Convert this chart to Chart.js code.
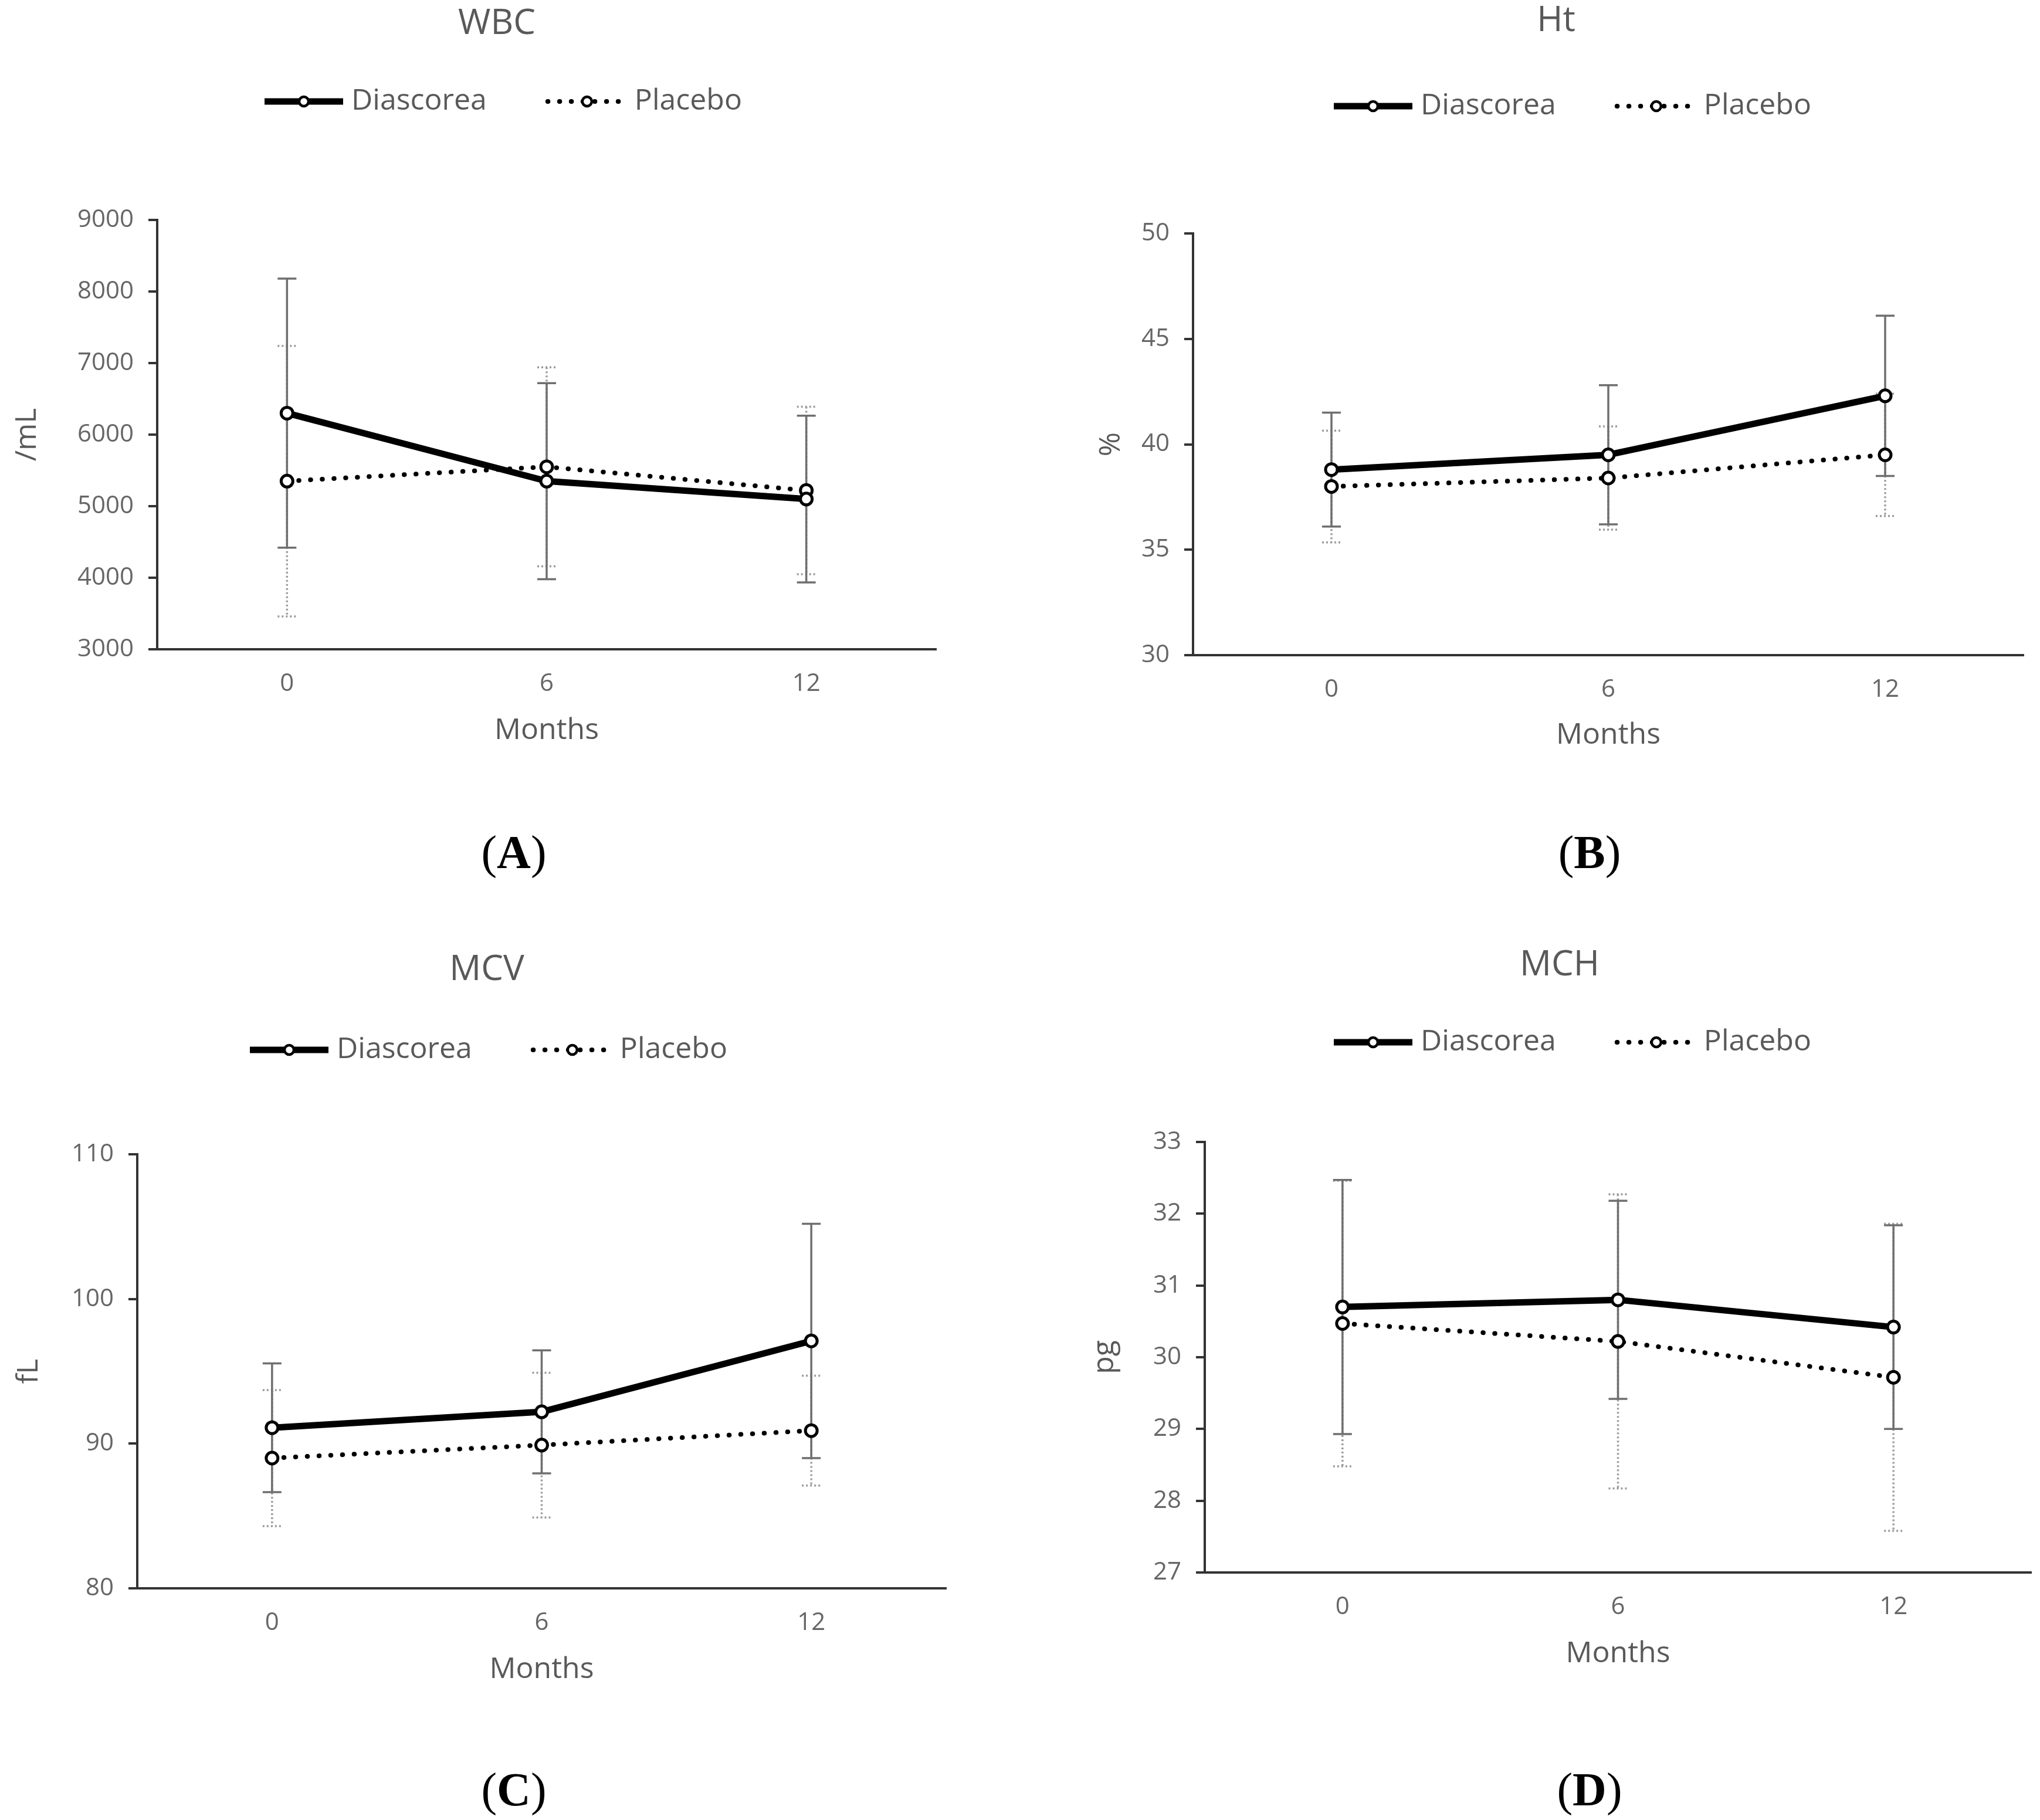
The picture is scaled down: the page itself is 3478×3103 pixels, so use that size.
<!DOCTYPE html>
<html>
<head>
<meta charset="utf-8">
<script src="https://cdn.jsdelivr.net/npm/chart.js@4.4.1/dist/chart.umd.min.js"></script>
<style>
  html, body { margin: 0; padding: 0; background: #fff; }
  body { position: relative; width: 3478px; height: 3103px; overflow: hidden; }
  canvas { position: absolute; }
  .tag {
    position: absolute;
    font-family: "Liberation Serif", "Tinos", "Times New Roman", "Nimbus Roman", "FreeSerif", serif;
    font-size: 80px;
    font-weight: normal;
    color: #000;
    line-height: 1;
    white-space: nowrap;
    transform: translate(-50%, -50%);
  }
  .tag b { font-weight: bold; }
</style>
</head>
<body>
<canvas id="wbc"></canvas>
<canvas id="ht"></canvas>
<canvas id="mcv"></canvas>
<canvas id="mch"></canvas>
<div class="tag" style="left:876px;top:1453px">(<b>A</b>)</div>
<div class="tag" style="left:2710px;top:1453px">(<b>B</b>)</div>
<div class="tag" style="left:876px;top:3051px">(<b>C</b>)</div>
<div class="tag" style="left:2710px;top:3051px">(<b>D</b>)</div>
<script>
const months = ['0', '6', '12']
const seriesNames = ['Diascorea', 'Placebo']

// WBC, /mL
const wbcTicks = [3000, 4000, 5000, 6000, 7000, 8000, 9000]
const wbcDiascorea = [6300, 5350, 5100]
const wbcDiascoreaSd = [1880, 1370, 1165]
const wbcPlacebo = [5350, 5550, 5220]
const wbcPlaceboSd = [1890, 1390, 1170]

// Ht, %
const htTicks = [30, 35, 40, 45, 50]
const htDiascorea = [38.8, 39.5, 42.3]
const htDiascoreaSd = [2.7, 3.3, 3.8]
const htPlacebo = [38.0, 38.4, 39.5]
const htPlaceboSd = [2.65, 2.45, 2.9]

// MCV, fL
const mcvTicks = [80, 90, 100, 110]
const mcvDiascorea = [91.1, 92.2, 97.1]
const mcvDiascoreaSd = [4.45, 4.25, 8.1]
const mcvPlacebo = [89.0, 89.9, 90.9]
const mcvPlaceboSd = [4.7, 5.0, 3.8]

// MCH, pg
const mchTicks = [27, 28, 29, 30, 31, 32, 33]
const mchDiascorea = [30.7, 30.8, 30.42]
const mchDiascoreaSd = [1.77, 1.38, 1.42]
const mchPlacebo = [30.47, 30.22, 29.72]
const mchPlaceboSd = [1.99, 2.05, 2.14]

const TEXT = '#595959'
const TICK_TEXT = '#666666'
const AXIS = '#333333'

const seriesStyles = [
  { line: { borderColor: '#000', borderWidth: 11, borderDash: [], borderCapStyle: 'butt' },
    bar: { color: '#6f6f6f', dash: [] } },
  { line: { borderColor: '#000', borderWidth: 8, borderDash: [0.5, 19.5], borderCapStyle: 'round' },
    bar: { color: '#9c9c9c', dash: [3, 4] } }
]

const panels = [
  { id: 'wbc', title: 'WBC', unit: '/mL', ticks: wbcTicks,
    means: [wbcDiascorea, wbcPlacebo], sds: [wbcDiascoreaSd, wbcPlaceboSd],
    box: { left: 0, top: 0, width: 1739, height: 1330 },
    area: { left: 268, right: 1596, top: 375, bottom: 1107 },
    titlePos: [847, 41], legendPos: [451, 173], unitX: 47, monthsY: 1246 },
  { id: 'ht', title: 'Ht', unit: '%', ticks: htTicks,
    means: [htDiascorea, htPlacebo], sds: [htDiascoreaSd, htPlaceboSd],
    box: { left: 1739, top: 0, width: 1739, height: 1330 },
    area: { left: 2034, right: 3450, top: 398, bottom: 1117 },
    titlePos: [2653, 36], legendPos: [2274, 181], unitX: 1895, monthsY: 1254 },
  { id: 'mcv', title: 'MCV', unit: 'fL', ticks: mcvTicks,
    means: [mcvDiascorea, mcvPlacebo], sds: [mcvDiascoreaSd, mcvPlaceboSd],
    box: { left: 0, top: 1560, width: 1739, height: 1340 },
    area: { left: 234, right: 1613, top: 1968, bottom: 2708 },
    titlePos: [830, 1654], legendPos: [426, 1790], unitX: 50, monthsY: 2847 },
  { id: 'mch', title: 'MCH', unit: 'pg', ticks: mchTicks,
    means: [mchDiascorea, mchPlacebo], sds: [mchDiascoreaSd, mchPlaceboSd],
    box: { left: 1739, top: 1560, width: 1739, height: 1340 },
    area: { left: 2054, right: 3472, top: 1947, bottom: 2681 },
    titlePos: [2659, 1646], legendPos: [2274, 1777], unitX: 1884, monthsY: 2820 }
]

// mean ± SD whiskers, drawn under the lines
const errorBars = {
  id: 'errorBars',
  beforeDatasetsDraw(chart) {
    const { ctx, scales: { x, y } } = chart
    for (let i = chart.data.datasets.length - 1; i >= 0; i--) {
      const ds = chart.data.datasets[i]
      const bar = seriesStyles[i].bar
      ctx.save()
      ctx.strokeStyle = bar.color
      ctx.lineWidth = 3.5
      ctx.setLineDash(bar.dash)
      ds.data.forEach((mean, j) => {
        const px = x.getPixelForValue(j)
        const top = y.getPixelForValue(mean + ds.sd[j])
        const bottom = y.getPixelForValue(mean - ds.sd[j])
        ctx.beginPath()
        ctx.moveTo(px, top)
        ctx.lineTo(px, bottom)
        ctx.moveTo(px - 16, top)
        ctx.lineTo(px + 16, top)
        ctx.moveTo(px - 16, bottom)
        ctx.lineTo(px + 16, bottom)
        ctx.stroke()
      })
      ctx.restore()
    }
  }
}

// title and line+marker legend above each panel
const header = {
  id: 'header',
  afterDraw(chart, args, opts) {
    const { ctx } = chart
    const [ox, oy] = opts.origin
    ctx.save()
    ctx.fillStyle = TEXT
    ctx.textBaseline = 'middle'
    ctx.textAlign = 'center'
    ctx.font = '60px "Open Sans"'
    ctx.fillText(opts.text, opts.titlePos[0] - ox, opts.titlePos[1] - oy)

    ctx.font = '50px "Open Sans"'
    ctx.textAlign = 'left'
    let x = opts.legendPos[0] - ox
    const y = opts.legendPos[1] - oy
    chart.data.datasets.forEach(ds => {
      ctx.save()
      ctx.strokeStyle = ds.borderColor
      ctx.lineWidth = ds.borderWidth
      ctx.lineCap = ds.borderCapStyle
      ctx.setLineDash(ds.borderDash)
      ctx.beginPath()
      ctx.moveTo(x, y)
      ctx.lineTo(x + 134, y)
      ctx.stroke()
      ctx.setLineDash([])
      ctx.beginPath()
      ctx.arc(x + 67, y, 8, 0, Math.PI * 2)
      ctx.fillStyle = '#fff'
      ctx.fill()
      ctx.lineWidth = 4.5
      ctx.strokeStyle = '#000'
      ctx.stroke()
      ctx.restore()
      x += 134 + 14
      ctx.fillText(ds.label, x, y)
      x += ctx.measureText(ds.label).width + 104
    })
    ctx.restore()
  }
}

function makeChart(p) {
  const canvas = document.getElementById(p.id)
  canvas.width = p.box.width
  canvas.height = p.box.height
  canvas.style.left = p.box.left + 'px'
  canvas.style.top = p.box.top + 'px'

  const yWidth = p.area.left - p.box.left
  const xHeight = p.box.top + p.box.height - p.area.bottom
  const ticks = p.ticks

  const datasets = seriesNames.map((name, i) => ({
    label: name,
    data: p.means[i],
    sd: p.sds[i],
    ...seriesStyles[i].line,
    borderJoinStyle: 'round',
    tension: 0,
    fill: false,
    pointRadius: 10,
    pointBorderWidth: 5,
    pointBackgroundColor: '#fff',
    pointBorderColor: '#000'
  }))

  return new Chart(canvas, {
    type: 'line',
    data: { labels: months, datasets },
    options: {
      responsive: false,
      animation: false,
      devicePixelRatio: 1,
      layout: {
        padding: {
          left: 0,
          top: p.area.top - p.box.top,
          right: p.box.left + p.box.width - p.area.right,
          bottom: 0
        }
      },
      plugins: {
        legend: { display: false },
        title: { display: false },
        tooltip: { enabled: false },
        header: {
          text: p.title,
          origin: [p.box.left, p.box.top],
          titlePos: p.titlePos,
          legendPos: p.legendPos
        }
      },
      scales: {
        x: {
          offset: true,
          grid: { display: false, drawTicks: false },
          border: { display: true, color: AXIS, width: 4 },
          ticks: { font: { size: 42 }, color: TICK_TEXT, padding: 34 },
          title: {
            display: true, text: 'Months', color: TEXT, font: { size: 50 },
            padding: { top: 0, bottom: p.box.top + p.box.height - p.monthsY - 30 }
          },
          afterFit: s => { s.height = xHeight }
        },
        y: {
          min: ticks[0],
          max: ticks[ticks.length - 1],
          ticks: {
            stepSize: ticks[1] - ticks[0],
            font: { size: 42 }, color: TICK_TEXT, padding: 25,
            callback: v => String(v)
          },
          grid: { drawOnChartArea: false, drawTicks: true, tickLength: 15, color: AXIS, lineWidth: 4 },
          border: { display: true, color: AXIS, width: 4 },
          title: {
            display: true, text: p.unit, color: TEXT, font: { size: 50 },
            padding: { top: p.unitX - p.box.left - 30, bottom: 0 }
          },
          afterFit: s => { s.width = yWidth }
        }
      }
    },
    plugins: [errorBars, header]
  })
}

Chart.defaults.font.family = '"Open Sans", "Noto Sans", sans-serif'

Promise.all([
  document.fonts.load('50px "Open Sans"'),
  document.fonts.load('bold 80px "Liberation Serif"')
]).catch(() => {}).then(() => panels.forEach(makeChart))
</script>
</body>
</html>
